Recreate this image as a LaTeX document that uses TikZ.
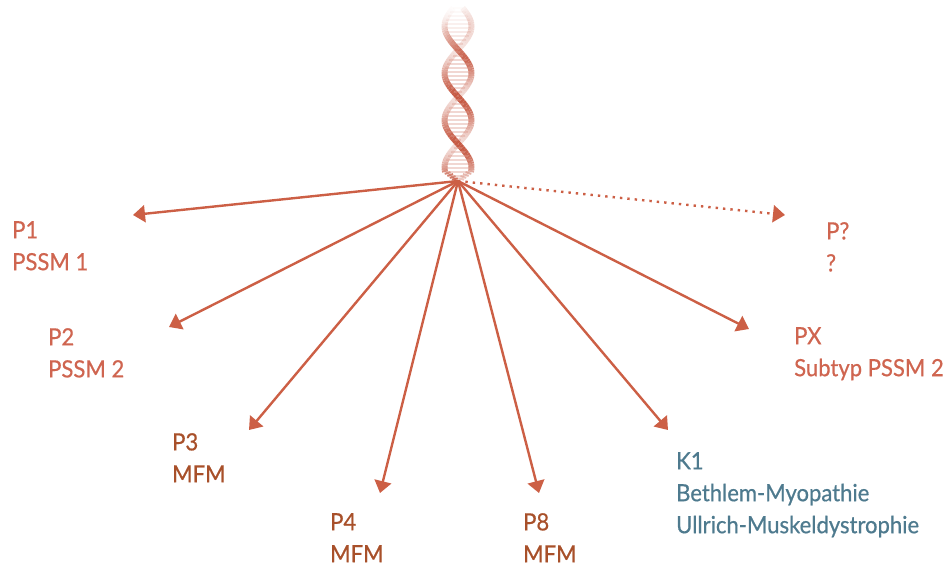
\documentclass[tikz,border=0pt]{standalone}
\usepackage{fontspec}
\setmainfont[FakeStretch=0.93,FakeBold=0.6]{Lato}
\usetikzlibrary{arrows.meta}
\definecolor{lightText}{HTML}{CF6550}
\definecolor{darkText}{HTML}{A8502A}
\definecolor{blueText}{HTML}{4E7A8E}
\definecolor{arrowDraw}{HTML}{CC5F45}
\definecolor{helixDraw}{HTML}{C65A44}
\tikzset{
  lbl/.style ={anchor=north west, inner sep=0pt, align=left, font=\fontsize{23.7}{32}\selectfont},
  pat/.style ={lbl, text=lightText},
  mfm/.style ={lbl, text=darkText},
  ctrl/.style={lbl, text=blueText},
  arr/.style ={draw=arrowDraw, line width=2.4pt, -{Triangle[length=12pt,width=17pt]}},
  darr/.style={arr, dash pattern=on 2.4pt off 5pt},
  strand/.style={draw=helixDraw, line width=6pt},
  rung/.style={draw=helixDraw!60, line width=1.2pt},
}

\begin{document}
\begin{tikzpicture}[x=1pt,y=-1pt]
  \useasboundingbox (0,0) rectangle (947,567);

  % double helix, fading out towards the top
  \foreach \i in {0,...,85} {
    \pgfmathsetmacro\ya{8+2*\i}
    \pgfmathsetmacro\yb{\ya+2}
    \pgfmathsetmacro\ta{(\ya-8)*3.83+20}
    \pgfmathsetmacro\tb{(\yb-8)*3.83+20}
    \pgfmathsetmacro\amp{13.5*min(1,(182-\ya)/12)}
    \pgfmathsetmacro\dxa{\amp*sin(\ta)}
    \pgfmathsetmacro\dxb{\amp*sin(\tb)}
    \pgfmathsetmacro\fade{min(1,0.08+(\ya-8)/55)}
    \pgfmathsetmacro\opa{\fade*(0.6+0.4*cos(\ta))}
    \pgfmathsetmacro\opb{\fade*(0.6-0.4*cos(\ta))}
    \pgfmathsetmacro\opr{0.4*\fade}
    \draw[strand, opacity=\opa] (458+\dxa,\ya) -- (458+\dxb,\yb);
    \draw[strand, opacity=\opb] (458-\dxa,\ya) -- (458-\dxb,\yb);
    \ifodd\i\else
      \draw[rung, opacity=\opr] (458+\dxa,\ya) -- (458-\dxa,\ya);
    \fi
  }

  % common origin and arrow ends
  \coordinate (root) at (458,181);
  \coordinate (tipP1) at (133,215);
  \coordinate (tipP2) at (169,327);
  \coordinate (tipP3) at (249,430);
  \coordinate (tipP4) at (380,493);
  \coordinate (tipP8) at (539,493);
  \coordinate (tipK1) at (668,430);
  \coordinate (tipPX) at (749,329);
  \coordinate (tipPq) at (785,215);

  % labels
  \node[pat]  (p1) at (12,221)  {P1\\PSSM 1};
  \node[pat]  (p2) at (48,328)  {P2\\PSSM 2};
  \node[mfm]  (p3) at (172,433) {P3\\MFM};
  \node[mfm]  (p4) at (330,513) {P4\\MFM};
  \node[mfm]  (p8) at (523,513) {P8\\MFM};
  \node[ctrl] (k1) at (676,452) {K1\\Bethlem-Myopathie\\Ullrich-Muskeldystrophie};
  \node[pat]  (px) at (794,327) {PX\\Subtyp PSSM 2};
  \node[pat]  (pq) at (826,222) {P?\\?};

  % arrows
  \foreach \t in {P1,P2,P3,P4,P8,K1,PX}
    \draw[arr] (root) -- (tip\t);
  \draw[darr] (root) -- (tipPq);
\end{tikzpicture}
\end{document}
